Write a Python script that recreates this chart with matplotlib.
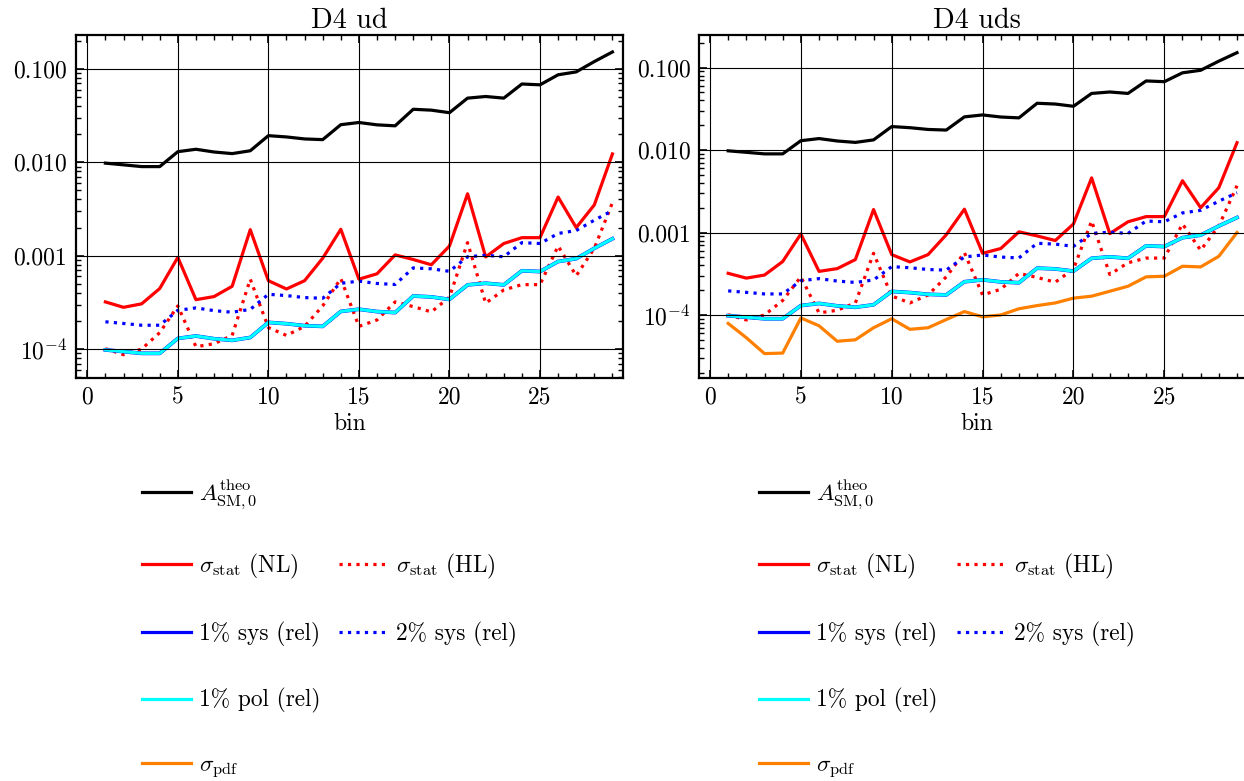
import numpy as np
import matplotlib
matplotlib.use("Agg")
import matplotlib.pyplot as plt
from matplotlib.lines import Line2D
from matplotlib.ticker import LogLocator, MultipleLocator, FuncFormatter, NullFormatter

# ---- data -------------------------------------------------------------
bins = list(range(1, 30))

a_sm_theo = [0.0098, 0.0094, 0.0090, 0.0090, 0.0130, 0.0138, 0.0129, 0.0124, 0.0133,
             0.0193, 0.0187, 0.0178, 0.0175, 0.0253, 0.0267, 0.0252, 0.0246, 0.0370,
             0.0362, 0.0340, 0.0487, 0.0507, 0.0487, 0.0690, 0.0676, 0.0866, 0.0930,
             0.1200, 0.1520]

sigma_stat_nl = [3.2e-4, 2.8e-4, 3.05e-4, 4.45e-4, 9.6e-4, 3.38e-4, 3.65e-4, 4.7e-4, 1.9e-3,
                 5.4e-4, 4.4e-4, 5.4e-4, 9.4e-4, 1.92e-3, 5.6e-4, 6.4e-4, 1.02e-3, 9.1e-4,
                 8.0e-4, 1.27e-3, 4.6e-3, 9.7e-4, 1.35e-3, 1.56e-3, 1.56e-3, 4.25e-3, 2.0e-3,
                 3.5e-3, 1.23e-2]

sigma_stat_hl = [1.01e-4, 8.7e-5, 1.0e-4, 1.5e-4, 2.9e-4, 1.06e-4, 1.14e-4, 1.4e-4, 5.6e-4,
                 1.7e-4, 1.4e-4, 1.75e-4, 2.9e-4, 5.7e-4, 1.75e-4, 2.05e-4, 3.2e-4, 2.85e-4,
                 2.5e-4, 3.6e-4, 1.38e-3, 3.1e-4, 4.3e-4, 4.9e-4, 4.9e-4, 1.27e-3, 6.1e-4,
                 1.2e-3, 3.7e-3]

sys_1pct = [9.8e-5, 9.4e-5, 9.0e-5, 9.0e-5, 1.30e-4, 1.38e-4, 1.29e-4, 1.24e-4, 1.33e-4,
            1.93e-4, 1.87e-4, 1.78e-4, 1.75e-4, 2.53e-4, 2.67e-4, 2.52e-4, 2.46e-4, 3.70e-4,
            3.62e-4, 3.40e-4, 4.87e-4, 5.07e-4, 4.87e-4, 6.90e-4, 6.76e-4, 8.66e-4, 9.30e-4,
            1.20e-3, 1.52e-3]

sys_2pct = [1.96e-4, 1.88e-4, 1.80e-4, 1.80e-4, 2.60e-4, 2.76e-4, 2.58e-4, 2.48e-4, 2.66e-4,
            3.86e-4, 3.74e-4, 3.56e-4, 3.50e-4, 5.06e-4, 5.34e-4, 5.04e-4, 4.92e-4, 7.40e-4,
            7.24e-4, 6.80e-4, 9.74e-4, 1.01e-3, 9.74e-4, 1.38e-3, 1.35e-3, 1.73e-3, 1.86e-3,
            2.40e-3, 3.04e-3]

pol_1pct = [9.8e-5, 9.4e-5, 9.0e-5, 9.0e-5, 1.30e-4, 1.38e-4, 1.29e-4, 1.24e-4, 1.33e-4,
            1.93e-4, 1.87e-4, 1.78e-4, 1.75e-4, 2.53e-4, 2.67e-4, 2.52e-4, 2.46e-4, 3.70e-4,
            3.62e-4, 3.40e-4, 4.87e-4, 5.07e-4, 4.87e-4, 6.90e-4, 6.76e-4, 8.66e-4, 9.30e-4,
            1.20e-3, 1.52e-3]

sigma_pdf_uds = [7.9e-5, 5.3e-5, 3.4e-5, 3.45e-5, 9.2e-5, 7.4e-5, 4.8e-5, 5.0e-5, 7.0e-5,
                 9.0e-5, 6.7e-5, 7.0e-5, 8.8e-5, 1.1e-4, 9.5e-5, 1.0e-4, 1.19e-4, 1.3e-4,
                 1.4e-4, 1.6e-4, 1.69e-4, 1.94e-4, 2.23e-4, 2.9e-4, 2.95e-4, 3.9e-4, 3.83e-4,
                 5.15e-4, 1.0e-3]

panel_titles = ["D4 ud", "D4 uds"]
legend_labels = [r"$A^{\rm theo}_{\rm SM,0}$", r"$\sigma_{\rm stat}$ (NL)", r"$\sigma_{\rm stat}$ (HL)",
                 "1% sys (rel)", "2% sys (rel)", "1% pol (rel)", r"$\sigma_{\rm pdf}$"]

# ---- style ------------------------------------------------------------
plt.rcParams.update({
    "font.family": "serif",
    "font.serif": ["cmr10"],
    "mathtext.fontset": "cm",
    "axes.unicode_minus": False,
    "font.size": 17,
    "axes.linewidth": 1.6,
    "xtick.direction": "in",
    "ytick.direction": "in",
    "xtick.top": True,
    "ytick.right": True,
    "xtick.major.size": 6,
    "ytick.major.size": 6,
    "xtick.minor.size": 3.5,
    "ytick.minor.size": 3.5,
    "xtick.major.width": 1.2,
    "ytick.major.width": 1.2,
    "xtick.minor.width": 1.0,
    "ytick.minor.width": 1.0,
    "xtick.major.pad": 6,
    "ytick.major.pad": 6,
})

LW = 2.3
C_BLACK, C_RED, C_BLUE, C_CYAN, C_ORANGE = "black", "#ff0000", "#0000ff", "#00ffff", "#ff8000"


def y_fmt(v, pos):
    if v >= 0.9e-3:
        return f"{v:.3f}"
    return rf"$10^{{{int(round(np.log10(v)))}}}$"


W, H = 1244, 781
fig = plt.figure(figsize=(W / 100, H / 100), dpi=100)

ax_h = 343.0
panels = [
    dict(left=75.7, width=547.6, xlim=(-0.64, 29.6), ylim=(4.9e-5, 0.231), pdf=None, leg_x=142.0),
    dict(left=699.0, width=556.0, xlim=(-0.605, 29.99), ylim=(1.72e-5, 0.249), pdf=sigma_pdf_uds,
         leg_x=759.3),
]

for title, p in zip(panel_titles, panels):
    ax = fig.add_axes([p["left"] / W, (H - 378.0) / H, p["width"] / W, ax_h / H])
    ax.plot(bins, a_sm_theo, color=C_BLACK, lw=LW)
    ax.plot(bins, sigma_stat_nl, color=C_RED, lw=LW)
    ax.plot(bins, sigma_stat_hl, color=C_RED, lw=LW, ls=":")
    ax.plot(bins, sys_1pct, color=C_BLUE, lw=LW + 0.4)
    ax.plot(bins, sys_2pct, color=C_BLUE, lw=LW, ls=":")
    ax.plot(bins, pol_1pct, color=C_CYAN, lw=LW)
    if p["pdf"] is not None:
        ax.plot(bins, p["pdf"], color=C_ORANGE, lw=LW)

    ax.set_yscale("log")
    ax.set_xlim(*p["xlim"])
    ax.set_ylim(*p["ylim"])
    ax.xaxis.set_major_locator(MultipleLocator(5))
    ax.xaxis.set_minor_locator(MultipleLocator(1))
    ax.yaxis.set_major_locator(LogLocator(base=10))
    ax.yaxis.set_minor_locator(LogLocator(base=10, subs=np.arange(2, 10)))
    ax.yaxis.set_major_formatter(FuncFormatter(y_fmt))
    ax.yaxis.set_minor_formatter(NullFormatter())
    ax.grid(True, which="major", color="black", lw=0.8)
    ax.set_axisbelow(False)
    ax.set_title(title, pad=5)
    ax.set_xlabel("bin", labelpad=3)

    blank = Line2D([], [], color="none")
    handles = [
        Line2D([], [], color=C_BLACK, lw=LW),
        Line2D([], [], color=C_RED, lw=LW),
        Line2D([], [], color=C_BLUE, lw=LW),
        Line2D([], [], color=C_CYAN, lw=LW),
        Line2D([], [], color=C_ORANGE, lw=LW),
        blank,
        Line2D([], [], color=C_RED, lw=LW, ls=":"),
        Line2D([], [], color=C_BLUE, lw=LW, ls=":"),
        blank,
        blank,
    ]
    # the first entry of the second column is an empty slot sized like the first row
    labels = [legend_labels[0], legend_labels[1], legend_labels[3], legend_labels[5],
              legend_labels[6], legend_labels[0], legend_labels[2], legend_labels[4], "", ""]
    leg = ax.legend(handles, labels, ncol=2, loc="upper left",
                    bbox_to_anchor=(p["leg_x"] / W, 1 - 476.0 / H), bbox_transform=fig.transFigure,
                    frameon=False, borderpad=0, borderaxespad=0, handlelength=2.1,
                    handletextpad=0.35, columnspacing=0.8, labelspacing=1.76, fontsize=16.8)
    leg.get_texts()[5].set_color("none")

fig.savefig("out.png", dpi=100)
